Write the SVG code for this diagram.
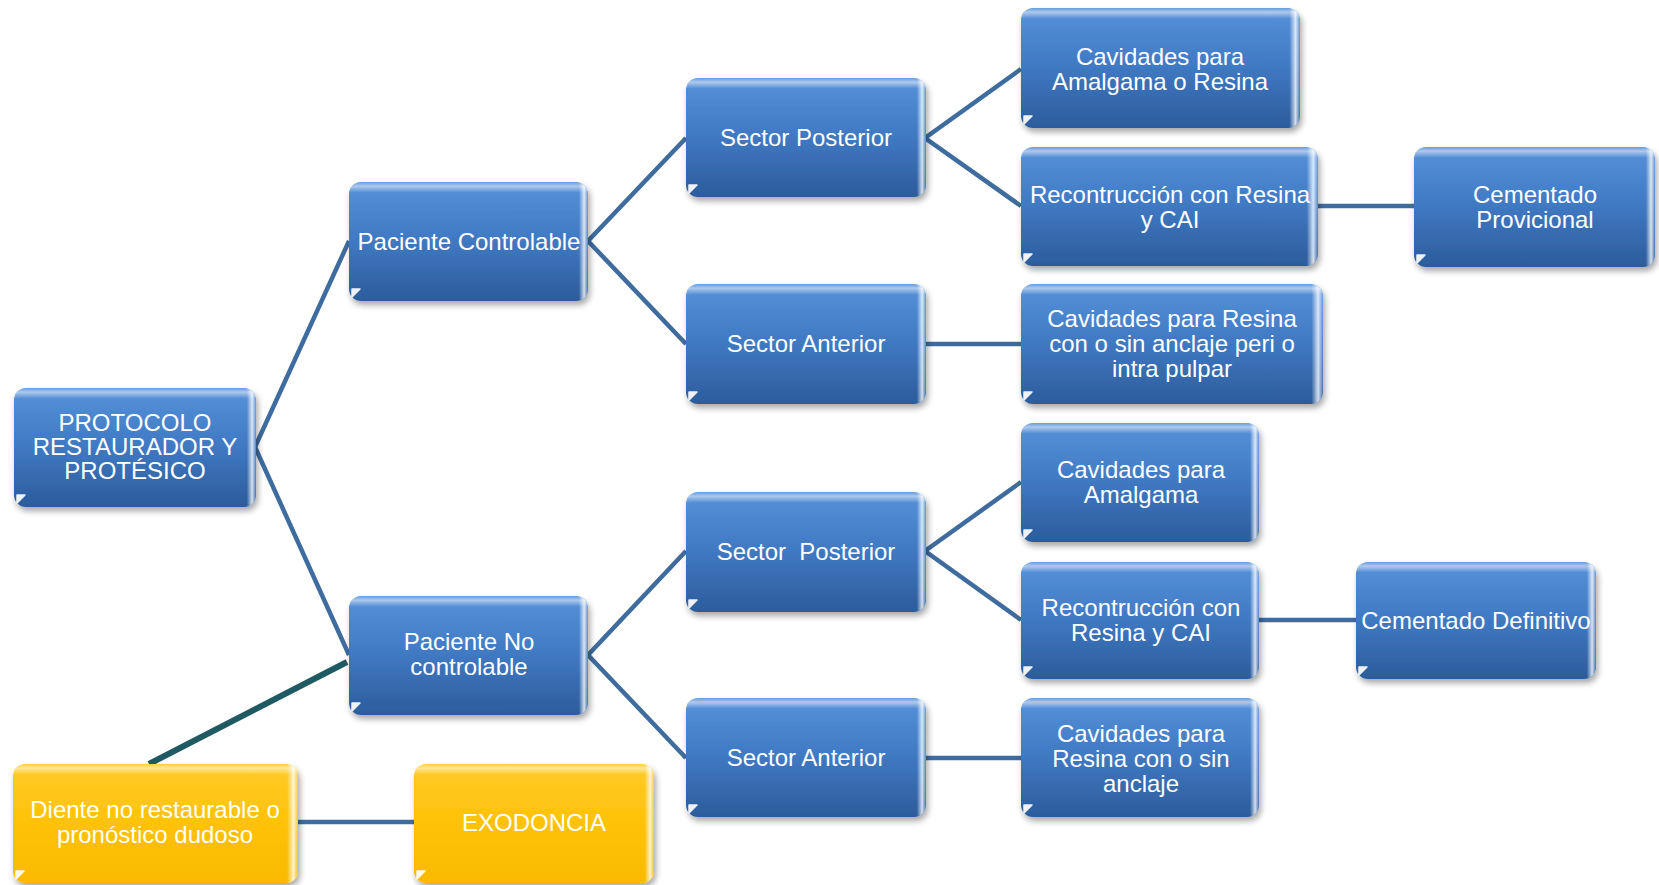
<svg xmlns="http://www.w3.org/2000/svg" width="1659" height="885" viewBox="0 0 1659 885">
  <defs>
    <linearGradient id="blueFill" x1="0" y1="0" x2="0" y2="1">
      <stop offset="0" stop-color="#4A8AD7"/>
      <stop offset="0.45" stop-color="#3A76C3"/>
      <stop offset="1" stop-color="#2C5C9B"/>
    </linearGradient>
    <linearGradient id="goldFill" x1="0" y1="0" x2="0" y2="1">
      <stop offset="0" stop-color="#FFC81A"/>
      <stop offset="0.5" stop-color="#FFC000"/>
      <stop offset="1" stop-color="#F9BA00"/>
    </linearGradient>
    <!-- glossy band along the top edge -->
    <linearGradient id="topSheen" x1="0" y1="0" x2="0" y2="1">
      <stop offset="0" stop-color="#FFFFFF" stop-opacity="0.15"/>
      <stop offset="0.035" stop-color="#FFFFFF" stop-opacity="0.55"/>
      <stop offset="0.09" stop-color="#FFFFFF" stop-opacity="0.06"/>
      <stop offset="1" stop-color="#FFFFFF" stop-opacity="0"/>
    </linearGradient>
    <!-- bright rim just inside the right edge -->
    <linearGradient id="rightSheen" x1="0" y1="0" x2="1" y2="0">
      <stop offset="0" stop-color="#FFFFFF" stop-opacity="0"/>
      <stop offset="0.962" stop-color="#FFFFFF" stop-opacity="0"/>
      <stop offset="0.984" stop-color="#FFFFFF" stop-opacity="0.8"/>
      <stop offset="1" stop-color="#FFFFFF" stop-opacity="0.1"/>
    </linearGradient>
    <filter id="shadow" x="-10%" y="-10%" width="125%" height="130%">
      <feGaussianBlur in="SourceAlpha" stdDeviation="3"/>
      <feOffset dx="2" dy="4" result="b"/>
      <feComponentTransfer><feFuncA type="linear" slope="0.35"/></feComponentTransfer>
      <feMerge><feMergeNode/><feMergeNode in="SourceGraphic"/></feMerge>
    </filter>
    <style>
      .box { filter: url(#shadow); }
      .blue { fill: url(#blueFill); }
      .gold { fill: url(#goldFill); }
      .sheen { fill: url(#topSheen); }
      .rim { fill: url(#rightSheen); }
      .tri { fill: #FFFFFF; opacity: 0.92; stroke: #FFFFFF; stroke-width: 1.5; stroke-linejoin: round; }
      .lbl { font-family: "Liberation Sans", Arial, sans-serif; font-size: 24px; fill: #FFFFFF; text-anchor: middle; }
      .link { stroke: #3F6C9F; stroke-width: 4.5; fill: none; }
      .link-dark { stroke: #1F5A63; stroke-width: 6; fill: none; }
    </style>
  </defs>

  <!-- connectors -->
  <g id="connectors">
    <polyline class="link" points="349,241 255,447 349,655"/>
    <polyline class="link" points="686,138 588,241 686,344"/>
    <polyline class="link" points="1021,69 925,138 1021,206"/>
    <line class="link" x1="1318" y1="206" x2="1414" y2="206"/>
    <line class="link" x1="926" y1="344" x2="1021" y2="344"/>
    <polyline class="link" points="686,551 588,655 686,758"/>
    <polyline class="link" points="1021,482 925,551 1021,620"/>
    <line class="link" x1="1259" y1="620" x2="1356" y2="620"/>
    <line class="link" x1="926" y1="758" x2="1021" y2="758"/>
    <line class="link" x1="298" y1="822" x2="414" y2="822"/>
    <line class="link-dark" x1="347" y1="662" x2="149" y2="764"/>
  </g>

  <!-- root -->
  <g id="protocolo">
    <rect class="box blue" x="14" y="388" width="242" height="119" rx="12"/>
    <rect class="sheen" x="14" y="388" width="242" height="119" rx="12"/>
    <rect class="rim" x="14" y="388" width="242" height="119" rx="12"/>
    <polygon class="tri" points="17,495 25,495 17,503"/>
    <text class="lbl"><tspan x="135" y="431">PROTOCOLO</tspan><tspan x="135" y="455">RESTAURADOR Y</tspan><tspan x="135" y="479">PROTÉSICO</tspan></text>
  </g>

  <g id="paciente-controlable">
    <rect class="box blue" x="349" y="182" width="239" height="119" rx="12"/>
    <rect class="sheen" x="349" y="182" width="239" height="119" rx="12"/>
    <rect class="rim" x="349" y="182" width="239" height="119" rx="12"/>
    <polygon class="tri" points="352,289 360,289 352,297"/>
    <text class="lbl" x="469" y="250">Paciente Controlable</text>
  </g>

  <g id="paciente-no-controlable">
    <rect class="box blue" x="349" y="596" width="239" height="119" rx="12"/>
    <rect class="sheen" x="349" y="596" width="239" height="119" rx="12"/>
    <rect class="rim" x="349" y="596" width="239" height="119" rx="12"/>
    <polygon class="tri" points="352,703 360,703 352,711"/>
    <text class="lbl"><tspan x="469" y="650">Paciente No</tspan><tspan x="469" y="675">controlable</tspan></text>
  </g>

  <g id="sector-posterior-1">
    <rect class="box blue" x="686" y="78" width="240" height="119" rx="12"/>
    <rect class="sheen" x="686" y="78" width="240" height="119" rx="12"/>
    <rect class="rim" x="686" y="78" width="240" height="119" rx="12"/>
    <polygon class="tri" points="689,185 697,185 689,193"/>
    <text class="lbl" x="806" y="146">Sector Posterior</text>
  </g>

  <g id="sector-anterior-1">
    <rect class="box blue" x="686" y="284" width="240" height="120" rx="12"/>
    <rect class="sheen" x="686" y="284" width="240" height="120" rx="12"/>
    <rect class="rim" x="686" y="284" width="240" height="120" rx="12"/>
    <polygon class="tri" points="689,392 697,392 689,400"/>
    <text class="lbl" x="806" y="352">Sector Anterior</text>
  </g>

  <g id="sector-posterior-2">
    <rect class="box blue" x="686" y="492" width="240" height="120" rx="12"/>
    <rect class="sheen" x="686" y="492" width="240" height="120" rx="12"/>
    <rect class="rim" x="686" y="492" width="240" height="120" rx="12"/>
    <polygon class="tri" points="689,600 697,600 689,608"/>
    <text class="lbl" x="806" y="560" xml:space="preserve">Sector  Posterior</text>
  </g>

  <g id="sector-anterior-2">
    <rect class="box blue" x="686" y="698" width="240" height="119" rx="12"/>
    <rect class="sheen" x="686" y="698" width="240" height="119" rx="12"/>
    <rect class="rim" x="686" y="698" width="240" height="119" rx="12"/>
    <polygon class="tri" points="689,805 697,805 689,813"/>
    <text class="lbl" x="806" y="766">Sector Anterior</text>
  </g>

  <g id="cavidades-amalgama-resina">
    <rect class="box blue" x="1021" y="8" width="279" height="120" rx="12"/>
    <rect class="sheen" x="1021" y="8" width="279" height="120" rx="12"/>
    <rect class="rim" x="1021" y="8" width="279" height="120" rx="12"/>
    <polygon class="tri" points="1024,116 1032,116 1024,124"/>
    <text class="lbl"><tspan x="1160" y="65">Cavidades para</tspan><tspan x="1160" y="90">Amalgama o Resina</tspan></text>
  </g>

  <g id="reconstruccion-1">
    <rect class="box blue" x="1021" y="147" width="297" height="119" rx="12"/>
    <rect class="sheen" x="1021" y="147" width="297" height="119" rx="12"/>
    <rect class="rim" x="1021" y="147" width="297" height="119" rx="12"/>
    <polygon class="tri" points="1024,254 1032,254 1024,262"/>
    <text class="lbl"><tspan x="1170" y="203">Recontrucción con Resina</tspan><tspan x="1170" y="228">y CAI</tspan></text>
  </g>

  <g id="cementado-provicional">
    <rect class="box blue" x="1414" y="147" width="241" height="120" rx="12"/>
    <rect class="sheen" x="1414" y="147" width="241" height="120" rx="12"/>
    <rect class="rim" x="1414" y="147" width="241" height="120" rx="12"/>
    <polygon class="tri" points="1417,255 1425,255 1417,263"/>
    <text class="lbl"><tspan x="1535" y="203">Cementado</tspan><tspan x="1535" y="228">Provicional</tspan></text>
  </g>

  <g id="cavidades-resina-peri-intra">
    <rect class="box blue" x="1021" y="284" width="302" height="120" rx="12"/>
    <rect class="sheen" x="1021" y="284" width="302" height="120" rx="12"/>
    <rect class="rim" x="1021" y="284" width="302" height="120" rx="12"/>
    <polygon class="tri" points="1024,392 1032,392 1024,400"/>
    <text class="lbl"><tspan x="1172" y="327">Cavidades para Resina</tspan><tspan x="1172" y="352">con o sin anclaje peri o</tspan><tspan x="1172" y="377">intra pulpar</tspan></text>
  </g>

  <g id="cavidades-amalgama">
    <rect class="box blue" x="1021" y="423" width="238" height="119" rx="12"/>
    <rect class="sheen" x="1021" y="423" width="238" height="119" rx="12"/>
    <rect class="rim" x="1021" y="423" width="238" height="119" rx="12"/>
    <polygon class="tri" points="1024,530 1032,530 1024,538"/>
    <text class="lbl"><tspan x="1141" y="478">Cavidades para</tspan><tspan x="1141" y="503">Amalgama</tspan></text>
  </g>

  <g id="reconstruccion-2">
    <rect class="box blue" x="1021" y="562" width="238" height="117" rx="12"/>
    <rect class="sheen" x="1021" y="562" width="238" height="117" rx="12"/>
    <rect class="rim" x="1021" y="562" width="238" height="117" rx="12"/>
    <polygon class="tri" points="1024,667 1032,667 1024,675"/>
    <text class="lbl"><tspan x="1141" y="616">Recontrucción con</tspan><tspan x="1141" y="641">Resina y CAI</tspan></text>
  </g>

  <g id="cementado-definitivo">
    <rect class="box blue" x="1356" y="562" width="240" height="117" rx="12"/>
    <rect class="sheen" x="1356" y="562" width="240" height="117" rx="12"/>
    <rect class="rim" x="1356" y="562" width="240" height="117" rx="12"/>
    <polygon class="tri" points="1359,667 1367,667 1359,675"/>
    <text class="lbl" x="1476" y="629">Cementado Definitivo</text>
  </g>

  <g id="cavidades-resina-anclaje">
    <rect class="box blue" x="1021" y="698" width="238" height="119" rx="12"/>
    <rect class="sheen" x="1021" y="698" width="238" height="119" rx="12"/>
    <rect class="rim" x="1021" y="698" width="238" height="119" rx="12"/>
    <polygon class="tri" points="1024,805 1032,805 1024,813"/>
    <text class="lbl"><tspan x="1141" y="742">Cavidades para</tspan><tspan x="1141" y="767">Resina con o sin</tspan><tspan x="1141" y="792">anclaje</tspan></text>
  </g>

  <g id="diente-no-restaurable">
    <rect class="box gold" x="13" y="764" width="285" height="119" rx="12"/>
    <rect class="sheen" x="13" y="764" width="285" height="119" rx="12"/>
    <rect class="rim" x="13" y="764" width="285" height="119" rx="12"/>
    <polygon class="tri" points="16,871 24,871 16,879"/>
    <text class="lbl"><tspan x="155" y="818">Diente no restaurable o</tspan><tspan x="155" y="843">pronóstico dudoso</tspan></text>
  </g>

  <g id="exodoncia">
    <rect class="box gold" x="414" y="764" width="240" height="119" rx="12"/>
    <rect class="sheen" x="414" y="764" width="240" height="119" rx="12"/>
    <rect class="rim" x="414" y="764" width="240" height="119" rx="12"/>
    <polygon class="tri" points="417,871 425,871 417,879"/>
    <text class="lbl" x="534" y="831">EXODONCIA</text>
  </g>
</svg>
